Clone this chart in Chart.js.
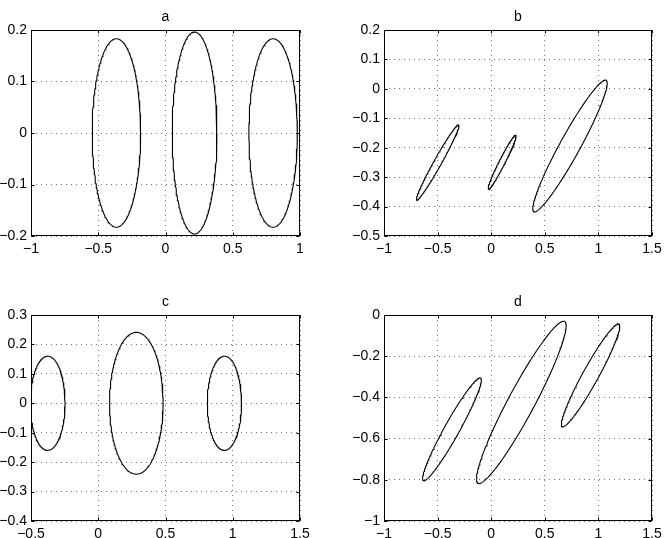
<!DOCTYPE html>
<html>
<head>
<meta charset="utf-8">
<script src="https://cdn.jsdelivr.net/npm/chart.js@4.4.1/dist/chart.umd.min.js"></script>
<style>
  html, body { margin: 0; padding: 0; background: #fff; }
  #wrap { position: relative; width: 667px; height: 538px; }
  canvas { position: absolute; }
</style>
</head>
<body>
<div id="wrap">
  <canvas id="pa" width="334" height="269" style="left:0;top:0"></canvas>
  <canvas id="pb" width="333" height="269" style="left:334px;top:0"></canvas>
  <canvas id="pc" width="334" height="269" style="left:0;top:269px"></canvas>
  <canvas id="pd" width="333" height="269" style="left:334px;top:269px"></canvas>
</div>
<script>
// tick labels per panel
const aXTicks = [-1, -0.5, 0, 0.5, 1];
const aYTicks = [-0.2, -0.1, 0, 0.1, 0.2];
const bXTicks = [-1, -0.5, 0, 0.5, 1, 1.5];
const bYTicks = [-0.5, -0.4, -0.3, -0.2, -0.1, 0, 0.1, 0.2];
const cXTicks = [-0.5, 0, 0.5, 1, 1.5];
const cYTicks = [-0.4, -0.3, -0.2, -0.1, 0, 0.1, 0.2, 0.3];
const dXTicks = [-1, -0.5, 0, 0.5, 1, 1.5];
const dYTicks = [-1, -0.8, -0.6, -0.4, -0.2, 0];

// ellipses: centre, half extent in x and y, phase between x and y (degrees)
const aCentreX = [-0.365, 0.216, 0.80];
const aCentreY = [0, 0, 0];
const aHalfX = [0.18, 0.166, 0.18];
const aHalfY = [0.183, 0.196, 0.183];
const aPhase = [90, 90, 90];

const bCentreX = [-0.499, 0.102, 0.735];
const bCentreY = [-0.25, -0.249, -0.194];
const bHalfX = [0.198, 0.13, 0.347];
const bHalfY = [0.128, 0.092, 0.224];
const bPhase = [12, 14, 18];

const cCentreX = [-0.376, 0.283, 0.938];
const cCentreY = [0, 0, 0];
const cHalfX = [0.129, 0.199, 0.127];
const cHalfY = [0.16, 0.241, 0.16];
const cPhase = [90, 90, 90];

const dCentreX = [-0.366, 0.281, 0.927];
const dCentreY = [-0.555, -0.424, -0.293];
const dHalfX = [0.274, 0.418, 0.272];
const dHalfY = [0.25, 0.394, 0.25];
const dPhase = [17, 19.5, 18];

const FONT = "'Liberation Sans', Arial, Helvetica, sans-serif";

function outline(cx, cy, hx, hy, phaseDeg) {
    const p = phaseDeg * Math.PI / 180;
    const pts = [];
    for (let i = 0; i <= 180; i++) {
        const t = (i / 180) * 2 * Math.PI;
        pts.push({ x: cx + hx * Math.cos(t), y: cy + hy * Math.cos(t + p) });
    }
    return pts;
}

function fmt(v) {
    return String(v).replace("-", "\u2212");
}

// box, inward tick marks and panel title
const framePlugin = {
    id: "frame",
    afterDatasetsDraw(chart, args, opts) {
        const { ctx, chartArea: a, scales } = chart;
        const l = Math.round(a.left) + 0.5, r = Math.round(a.right) - 0.5;
        const t = Math.round(a.top) + 0.5, b = Math.round(a.bottom) - 0.5;
        ctx.save();
        ctx.strokeStyle = "#000";
        ctx.lineWidth = 1;
        ctx.beginPath();
        scales.x.ticks.forEach(tk => {
            const px = Math.round(scales.x.getPixelForValue(tk.value)) + 0.5;
            ctx.moveTo(px, b); ctx.lineTo(px, b - 3);
            ctx.moveTo(px, t); ctx.lineTo(px, t + 3);
        });
        scales.y.ticks.forEach(tk => {
            const py = Math.round(scales.y.getPixelForValue(tk.value)) + 0.5;
            ctx.moveTo(l, py); ctx.lineTo(l + 3, py);
            ctx.moveTo(r, py); ctx.lineTo(r - 3, py);
        });
        ctx.stroke();
        ctx.strokeRect(l, t, r - l, b - t);
        ctx.fillStyle = "#000";
        ctx.font = "14px " + FONT;
        ctx.textAlign = "center";
        ctx.textBaseline = "alphabetic";
        ctx.fillText(opts.title, (a.left + a.right) / 2, a.top - 9);
        ctx.restore();
    }
};

function makePanel(id, title, canvasBox, area, xTicks, yTicks, cxs, cys, hxs, hys, phases) {
    const datasets = cxs.map((cx, i) => ({
        data: outline(cx, cys[i], hxs[i], hys[i], phases[i]),
        showLine: true,
        borderColor: "#000",
        borderWidth: 1.1,
        pointRadius: 0,
        tension: 0,
        fill: false
    }));
    const yAxisW = area.l - canvasBox.left;
    const xAxisH = canvasBox.top + canvasBox.h - area.b;
    const axis = (ticks) => ({
        type: "linear",
        min: ticks[0],
        max: ticks[ticks.length - 1],
        afterBuildTicks: s => { s.ticks = ticks.map(v => ({ value: v })); },
        ticks: {
            callback: v => fmt(v),
            color: "#000",
            font: { family: FONT, size: 14 },
            padding: 4,
            maxRotation: 0,
            autoSkip: false
        },
        grid: { color: "rgba(0,0,0,0.55)", lineWidth: 1, drawTicks: false },
        border: { display: false, dash: [1, 4] }
    });
    const xAxis = axis(xTicks);
    xAxis.ticks.padding = 5;
    xAxis.afterFit = s => { s.height = xAxisH; };
    const yAxis = axis(yTicks);
    yAxis.afterFit = s => { s.width = yAxisW; };

    return new Chart(document.getElementById(id), {
        type: "scatter",
        data: { datasets },
        options: {
            responsive: false,
            animation: false,
            events: [],
            layout: {
                padding: {
                    left: 0,
                    top: area.t - canvasBox.top,
                    right: canvasBox.left + canvasBox.w - area.r,
                    bottom: 0
                }
            },
            plugins: {
                legend: { display: false },
                tooltip: { enabled: false },
                frame: { title }
            },
            scales: { x: xAxis, y: yAxis }
        },
        plugins: [framePlugin]
    });
}

makePanel("pa", "a", { left: 0, top: 0, w: 334, h: 269 }, { l: 31, t: 30, r: 300, b: 236 },
    aXTicks, aYTicks, aCentreX, aCentreY, aHalfX, aHalfY, aPhase);
makePanel("pb", "b", { left: 334, top: 0, w: 333, h: 269 }, { l: 384, t: 30, r: 652, b: 236 },
    bXTicks, bYTicks, bCentreX, bCentreY, bHalfX, bHalfY, bPhase);
makePanel("pc", "c", { left: 0, top: 269, w: 334, h: 269 }, { l: 31, t: 315, r: 300, b: 521 },
    cXTicks, cYTicks, cCentreX, cCentreY, cHalfX, cHalfY, cPhase);
makePanel("pd", "d", { left: 334, top: 269, w: 333, h: 269 }, { l: 384, t: 315, r: 652, b: 521 },
    dXTicks, dYTicks, dCentreX, dCentreY, dHalfX, dHalfY, dPhase);
</script>
</body>
</html>
